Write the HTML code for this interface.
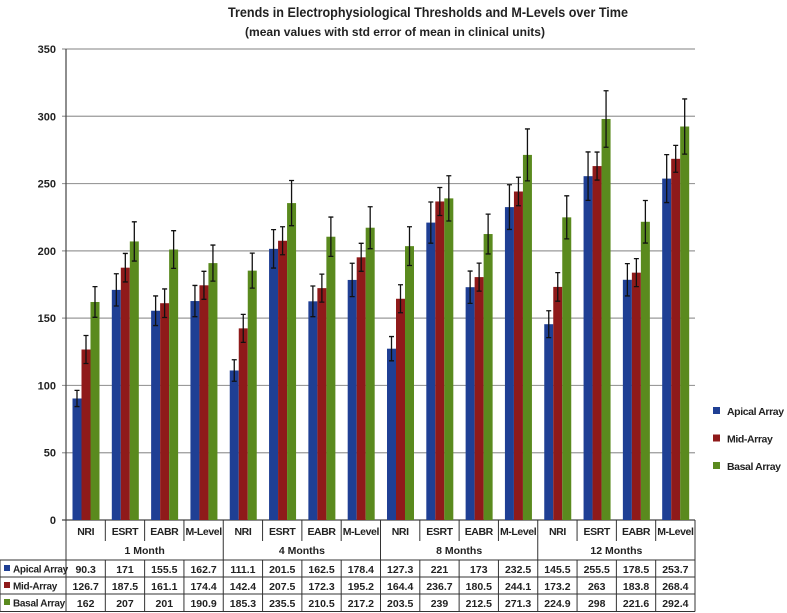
<!DOCTYPE html>
<html><head><meta charset="utf-8"><style>
body{margin:0;background:#fff;width:787px;height:613px;overflow:hidden}
svg{display:block;font-family:"Liberation Sans",sans-serif}
</style></head><body>
<svg id="chart" width="787" height="613">
<text x="428" y="17" text-anchor="middle" font-size="14" font-weight="bold" fill="#222" textLength="400" lengthAdjust="spacingAndGlyphs">Trends in Electrophysiological Thresholds and M-Levels over Time</text>
<text x="395" y="36" text-anchor="middle" font-size="12" font-weight="bold" fill="#222" textLength="300" lengthAdjust="spacingAndGlyphs">(mean values with std error of mean in clinical units)</text>
</svg>
<script>
const months=["1 Month","4 Months","8 Months","12 Months"];
const measures=["NRI","ESRT","EABR","M-Level"];
const seriesNames=["Apical Array","Mid-Array","Basal Array"];
const apical=[90.3,171,155.5,162.7,111.1,201.5,162.5,178.4,127.3,221,173,232.5,145.5,255.5,178.5,253.7];
const mid=[126.7,187.5,161.1,174.4,142.4,207.5,172.3,195.2,164.4,236.7,180.5,244.1,173.2,263,183.8,268.4];
const basal=[162,207,201,190.9,185.3,235.5,210.5,217.2,203.5,239,212.5,271.3,224.9,298,221.6,292.4];
const apicalErr=[6,12,11,11.6,8,14.3,11.4,12.4,9,15.3,12,16.6,10,18,12,17.8];
const midErr=[10.4,10.6,10.6,10.4,10.4,10.4,10.4,10.4,10.4,10.4,10.4,10.6,10.6,10.4,10.4,10];
const basalErr=[11.4,14.6,14,13.4,13,16.8,14.6,15.6,14.4,16.8,14.8,19.3,16,21,15.8,20.5];
const yTicks=[0,50,100,150,200,250,300,350];
const colors=["#1f3f94","#8f1a1a","#5a8a1e"];
const NS="http://www.w3.org/2000/svg";
const svg=document.getElementById("chart");
const X0=66,X1=695,Y0=520,Y350=49;
const n=apical.length, cw=(X1-X0)/n;
const y=v=>Y0-(v/350)*(Y0-Y350);
const xc=i=>X0+i*cw;
function mk(tag,attrs,parent){const e=document.createElementNS(NS,tag);for(const k in attrs)e.setAttribute(k,attrs[k]);(parent||svg).appendChild(e);return e;}
yTicks.forEach(t=>{
  const g=mk("line",{x1:X0-4,x2:X1,y1:y(t),y2:y(t),stroke:t===0?"#444":"#9a9a9a","stroke-width":1.2});
  
  
  const l=mk("text",{x:X0-10,y:y(t)+4,"text-anchor":"end","font-size":11,"font-weight":"bold",fill:"#222"});
  l.textContent=t;
  
  
});
const ax=mk("line",{x1:X0,x2:X0,y1:Y350,y2:Y0,stroke:"#444","stroke-width":1.2});


const series=[apical,mid,basal], errs=[apicalErr,midErr,basalErr];
const bw=9;
series.forEach((s,si)=>{
  s.forEach((v,i)=>{
    const bx=xc(i)+6.5+si*bw;
    const r=mk("rect",{x:bx,y:y(v),width:bw,height:Y0-y(v),fill:colors[si]});
    
    
    const cx=bx+bw/2,e=errs[si][i];
    const eb=mk("path",{d:`M${cx},${y(v-e)}V${y(v+e)}M${cx-2.5},${y(v+e)}H${cx+2.5}M${cx-2.5},${y(v-e)}H${cx+2.5}`,stroke:"#111","stroke-width":1.3,fill:"none"});
    
    
  });
});
const rowY=[520,541,560,577,594,611.5];
[560,577,594,611.5].forEach(yy=>{const l=mk("line",{x1:0,x2:X1,y1:yy,y2:yy,stroke:"#333","stroke-width":1});
  });
const bl=mk("line",{x1:0,x2:0,y1:560,y2:611.5,stroke:"#333"});

for(let i=0;i<=n;i++){
  const xx=xc(i);
  const bot=(i%4===0)?611.5:541;
  const l=mk("line",{x1:xx,x2:xx,y1:520,y2:bot,stroke:"#333","stroke-width":1});
  
  if(i%4!==0){const l2=mk("line",{x1:xx,x2:xx,y1:560,y2:611.5,stroke:"#333","stroke-width":1});
    }
}
for(let i=0;i<n;i++){
  const t=mk("text",{x:xc(i)+cw/2,y:535,"text-anchor":"middle","font-size":10.5,"font-weight":"bold",fill:"#222","letter-spacing":"-0.4"});
  t.textContent=measures[i%4];
  
  series.forEach((s,si)=>{
    const c=mk("text",{x:xc(i)+cw/2,y:rowY[si+2]+13,"text-anchor":"middle","font-size":10.5,"font-weight":"bold",fill:"#222"});
    c.textContent=s[i];
    
  });
}
months.forEach((m,mi)=>{
  const t=mk("text",{x:xc(mi*4+2),y:554,"text-anchor":"middle","font-size":10.5,"font-weight":"bold",fill:"#222"});
  t.textContent=m;
  
});
seriesNames.forEach((nm,si)=>{
  const r=mk("rect",{x:4,y:rowY[si+2]+5,width:6,height:6,fill:colors[si]});
  
  const t=mk("text",{x:13,y:rowY[si+2]+12.5,"font-size":10,"font-weight":"bold",fill:"#222","letter-spacing":"-0.3"});
  t.textContent=nm;
  
  const lr=mk("rect",{x:713,y:407+si*27.5,width:7,height:7,fill:colors[si]});
  
  const lt=mk("text",{x:727,y:415+si*27.5,"font-size":10.5,"font-weight":"bold",fill:"#222","letter-spacing":"-0.4"});
  lt.textContent=nm;
  
});
</script>
</body></html>
